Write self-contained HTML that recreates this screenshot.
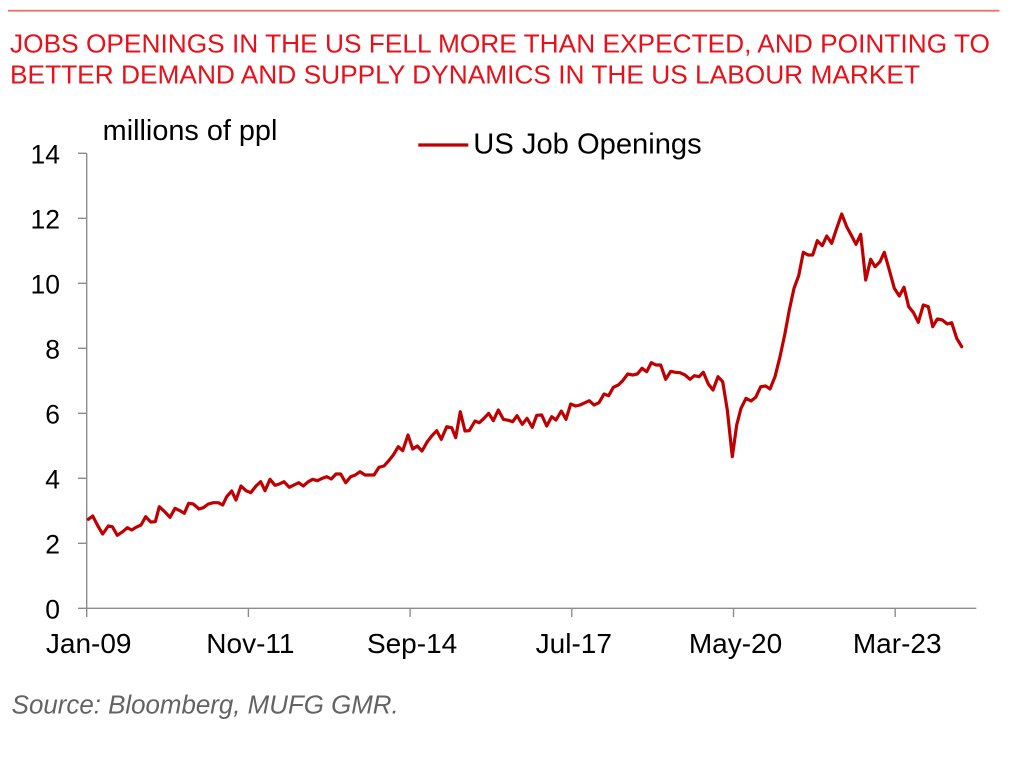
<!DOCTYPE html>
<html>
<head>
<meta charset="utf-8">
<style>
  html, body { margin: 0; padding: 0; background: #ffffff; }
  svg { display: block; }
  text { font-family: "Liberation Sans", Arial, sans-serif; }
</style>
</head>
<body>
<svg width="1022" height="757" viewBox="0 0 1022 757" xmlns="http://www.w3.org/2000/svg">
  <rect x="0" y="0" width="1022" height="757" fill="#ffffff"/>
  <!-- top rule -->
  <rect x="8" y="9.8" width="991.5" height="1.8" fill="#f36a6b"/>
  <!-- title -->
  <text x="10" y="52.7" font-size="26" fill="#e8101a" textLength="980" lengthAdjust="spacingAndGlyphs">JOBS OPENINGS IN THE US FELL MORE THAN EXPECTED, AND POINTING TO</text>
  <text x="10" y="83.3" font-size="26" fill="#e8101a" textLength="910" lengthAdjust="spacingAndGlyphs">BETTER DEMAND AND SUPPLY DYNAMICS IN THE US LABOUR MARKET</text>

  <!-- unit label -->
  <text x="102.7" y="140" font-size="28.8" fill="#000" textLength="174.7" lengthAdjust="spacingAndGlyphs">millions of ppl</text>

  <!-- legend -->
  <line x1="418.3" y1="145" x2="468.3" y2="145" stroke="#c00000" stroke-width="3.2"/>
  <text x="473.3" y="153.3" font-size="29" fill="#000" textLength="228.4" lengthAdjust="spacingAndGlyphs">US Job Openings</text>

  <!-- axes -->
  <g stroke="#8c8c8c" stroke-width="1.4" fill="none">
    <line x1="86.7" y1="153.3" x2="86.7" y2="608.3"/>
    <line x1="86.7" y1="608.3" x2="976.3" y2="608.3"/>
    <!-- y ticks -->
    <line x1="78" y1="153.3" x2="86.7" y2="153.3"/>
    <line x1="78" y1="218.3" x2="86.7" y2="218.3"/>
    <line x1="78" y1="283.3" x2="86.7" y2="283.3"/>
    <line x1="78" y1="348.3" x2="86.7" y2="348.3"/>
    <line x1="78" y1="413.3" x2="86.7" y2="413.3"/>
    <line x1="78" y1="478.3" x2="86.7" y2="478.3"/>
    <line x1="78" y1="543.3" x2="86.7" y2="543.3"/>
    <line x1="78" y1="608.3" x2="86.7" y2="608.3"/>
    <!-- x ticks -->
    <line x1="86.7" y1="608.3" x2="86.7" y2="617"/>
    <line x1="248.4" y1="608.3" x2="248.4" y2="617"/>
    <line x1="410.1" y1="608.3" x2="410.1" y2="617"/>
    <line x1="571.8" y1="608.3" x2="571.8" y2="617"/>
    <line x1="733.5" y1="608.3" x2="733.5" y2="617"/>
    <line x1="895.2" y1="608.3" x2="895.2" y2="617"/>
  </g>

  <!-- y labels -->
  <g font-size="26.5" fill="#000" text-anchor="end">
    <text x="60" y="163.5">14</text>
    <text x="60" y="228.5">12</text>
    <text x="60" y="293.5">10</text>
    <text x="60" y="358.5">8</text>
    <text x="60" y="423.5">6</text>
    <text x="60" y="488.5">4</text>
    <text x="60" y="553.5">2</text>
    <text x="60" y="618.5">0</text>
  </g>

  <!-- x labels -->
  <g font-size="28" fill="#000" text-anchor="middle">
    <text x="88.7" y="653">Jan-09</text>
    <text x="250.4" y="653">Nov-11</text>
    <text x="412.1" y="653">Sep-14</text>
    <text x="573.8" y="653">Jul-17</text>
    <text x="735.5" y="653">May-20</text>
    <text x="897.2" y="653">Mar-23</text>
  </g>

  <!-- series -->
  <polyline fill="none" stroke="#c00000" stroke-width="3.2" stroke-linejoin="round" stroke-linecap="round"
    points="88.3,519.3 92.7,516 98.3,526.7 102.7,534 108.3,526 112.3,526.7 117.3,535.3 122.7,531.7 127.3,527.7 131.7,530 136,527.3 141,525 145.7,516.7 150.7,522 155.3,521.7 159.3,506.7 165,512 170,517.3 175,508.3 180,510.7 184.3,513.3 188.7,503.3 193.3,504 199,509 203.3,507.7 208.3,504 213.3,502.7 218.3,502.7 222.7,505 226.7,496.7 231.7,491 236,500 241,486 246,490.7 250.7,492.7 256,486 260.7,481.7 265,490.7 270,479.3 275,485.3 279.3,484 284,481.7 289.3,487.3 294,485 298.7,482.7 303.3,486 308.3,481.7 312.7,479.3 317.3,480.7 322.3,478.3 326.7,476.7 331.3,479 336,474 340.7,474 345.7,482.7 350.7,476.7 355.3,475 360,471.7 365,475 369.3,475 374,475 379,467.3 384,466 388.7,460.7 393.3,455 398.3,446.7 402.7,450.7 408,435 412.7,449 417.3,446 422,451 427.3,441.7 431.7,436 436.7,430.7 441.3,439.3 446.7,426.7 451.7,427.7 455.7,437.7 460.3,411.7 465,431 469.3,430.7 475,421 479.3,422.7 484,418.3 488.7,413.3 493.3,420.7 498.3,410 503.3,419.3 508.3,420.3 512.7,421.7 517,415.7 522.3,424.3 527,418.3 532.3,427.3 536.7,415.3 541.7,415 546.7,426 551.7,416.7 556,420 561.3,411 566,419.3 570.7,404 575.7,406 580,405 585,402.7 589.3,400.7 594,405 599,402.7 604,394 608.7,395.7 613.3,387.3 618.3,385 622.7,380.7 627.7,374 632.7,375 637.3,374 642,368.3 646.7,371.7 651.3,362.7 656,365 660.7,365 665.7,379.3 670.7,371.3 675.3,372.3 680,372.7 685,375 690,379.3 694.3,375.7 699,376.7 703.3,372.3 708.3,384 713,390 718,376.7 722.7,381.7 727.3,410 732.3,456.7 736.7,425 741,408.3 746,398.3 751,401 755.7,397.3 760.7,386.7 765.7,386 770,389 775,376.7 780,356.7 785,333.3 789.3,310 794,288.3 798.7,275.7 803.3,252.3 808,255 812.7,255 817.3,240.7 822.3,245.7 826.7,236 831.7,243.3 836.7,228.3 841.7,214 846.7,226.7 851.7,236 856,244.3 860.7,234.3 865.7,280 870.7,259.3 875,266.7 880,261.7 884.3,252.3 889.3,270 894.3,288.3 899.3,296 904,287.3 908.7,306.7 913.3,312.3 918.3,322.3 923.3,305 928.3,306.7 932.7,326.7 937.3,319 942.3,320 947.3,324 951.7,322.7 956.7,338.3 961.7,346.7"/>

  <!-- source -->
  <text x="11.7" y="713.3" font-size="25.5" font-style="italic" fill="#636363" textLength="387" lengthAdjust="spacingAndGlyphs">Source: Bloomberg, MUFG GMR.</text>
</svg>
</body>
</html>
